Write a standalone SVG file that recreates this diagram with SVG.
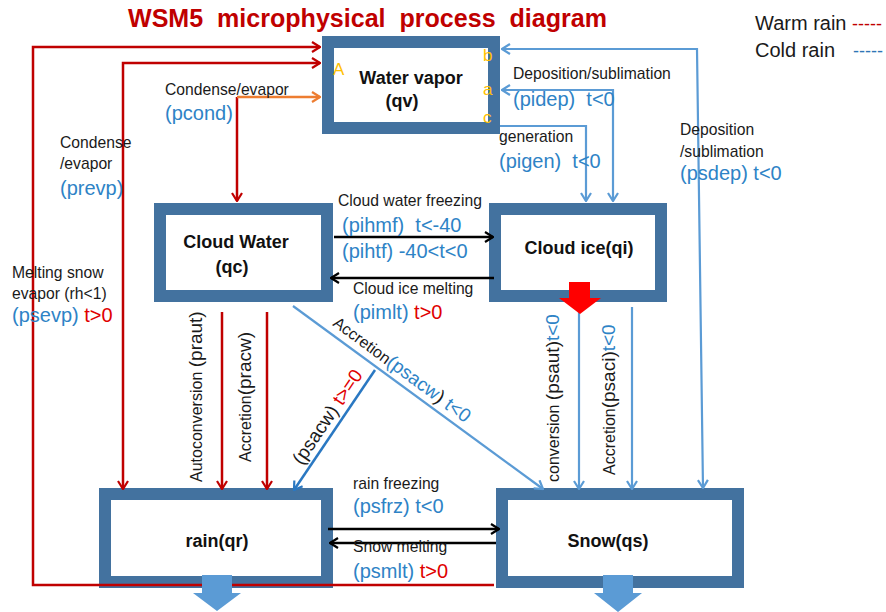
<svg xmlns="http://www.w3.org/2000/svg" width="886" height="612" viewBox="0 0 886 612">
<defs>
<style>
text{font-family:"Liberation Sans",Arial,sans-serif;white-space:pre}
.t{font-size:15.7px;fill:#1a1a1a}
.b{font-size:20px;fill:#2e83c6}
.r{fill:#e00000}
.k{fill:#1a1a1a}
.bl{fill:#2e83c6}
.box{fill:#fff;stroke:#43729f;stroke-width:12}
.nl{font-size:18px;font-weight:bold;fill:#111;text-anchor:middle}
.ltr{font-size:17px;fill:#ffc000}
.red{fill:none;stroke:#c00000;stroke-width:2.5}
.org{fill:none;stroke:#ed7d31;stroke-width:2.5}
.blu{fill:none;stroke:#5b9bd5;stroke-width:2.2}
.dbl{fill:none;stroke:#2a78c2;stroke-width:2.5}
.blk{fill:none;stroke:#000;stroke-width:2.5}
.blk-arrow{fill:#5b9bd5}
</style>
<marker id="mr" viewBox="0 0 10 12" refX="9" refY="6" markerWidth="10" markerHeight="12" markerUnits="userSpaceOnUse" orient="auto-start-reverse"><path d="M1,1 L9,6 L1,11" fill="none" stroke="#c00000" stroke-width="2.2"/></marker>
<marker id="mo" viewBox="0 0 10 12" refX="9" refY="6" markerWidth="10" markerHeight="12" markerUnits="userSpaceOnUse" orient="auto-start-reverse"><path d="M1,1 L9,6 L1,11" fill="none" stroke="#ed7d31" stroke-width="2.2"/></marker>
<marker id="mb" viewBox="0 0 10 12" refX="9" refY="6" markerWidth="10" markerHeight="12" markerUnits="userSpaceOnUse" orient="auto-start-reverse"><path d="M1,1 L9,6 L1,11" fill="none" stroke="#5b9bd5" stroke-width="2.2"/></marker>
<marker id="md" viewBox="0 0 10 12" refX="9" refY="6" markerWidth="10" markerHeight="12" markerUnits="userSpaceOnUse" orient="auto-start-reverse"><path d="M1,1 L9,6 L1,11" fill="none" stroke="#2a78c2" stroke-width="2.2"/></marker>
<marker id="mk" viewBox="0 0 10 12" refX="9" refY="6" markerWidth="10" markerHeight="12" markerUnits="userSpaceOnUse" orient="auto-start-reverse"><path d="M1,1 L9,6 L1,11" fill="none" stroke="#000" stroke-width="2.2"/></marker>
</defs>
<rect width="886" height="612" fill="#fff"/>

<text x="128" y="27" font-size="25" font-weight="bold" fill="#c00000" textLength="479" lengthAdjust="spacingAndGlyphs">WSM5  microphysical  process  diagram</text>

<g id="legend">
<text x="755" y="30" font-size="20" fill="#1a1a1a">Warm rain</text>
<text x="852" y="30" font-size="18" fill="#c00000">-----</text>
<text x="755" y="57" font-size="20" fill="#1a1a1a">Cold rain</text>
<text x="853" y="57" font-size="18" fill="#2e75b6">-----</text>
</g>

<g id="water-vapor">
<rect class="box" x="328" y="42" width="166" height="86"/>
<text class="nl" x="411" y="84">Water vapor</text>
<text class="nl" x="402" y="107">(qv)</text>
<text class="ltr" x="333" y="75">A</text>
<text class="ltr" x="483" y="61">b</text>
<text class="ltr" x="483" y="95">a</text>
<text class="ltr" x="483" y="123">c</text>
</g>
<g id="cloud-water">
<rect class="box" x="160" y="209" width="167" height="87"/>
<text class="nl" x="236" y="248">Cloud Water</text>
<text class="nl" x="232" y="273">(qc)</text>
</g>
<g id="cloud-ice">
<rect class="box" x="495" y="209" width="166" height="87"/>
<text class="nl" x="579" y="254">Cloud ice(qi)</text>
</g>
<g id="rain">
<rect class="box" x="105" y="494" width="222" height="88"/>
<text class="nl" x="217" y="547">rain(qr)</text>
</g>
<g id="snow">
<rect class="box" x="502" y="494" width="236" height="88"/>
<text class="nl" x="608" y="547">Snow(qs)</text>
</g>

<g id="connectors">
<path class="red" d="M494,585 H33 V47 H320" marker-end="url(#mr)"/>
<path class="red" d="M123,489 V63 H320" marker-start="url(#mr)" marker-end="url(#mr)"/>
<path class="red" d="M237,97 V201" marker-end="url(#mr)"/>
<path class="org" d="M237,97 H320" marker-end="url(#mo)"/>
<path class="red" d="M222,312 V489" marker-end="url(#mr)"/>
<path class="red" d="M267,312 V489" marker-end="url(#mr)"/>
<path class="blk" d="M334,237 H493" marker-end="url(#mk)"/>
<path class="blk" d="M494,278 H331" marker-end="url(#mk)"/>
<path class="blk" d="M328,529 H499" marker-end="url(#mk)"/>
<path class="blk" d="M496,543 H330" marker-end="url(#mk)"/>
<path class="blu" d="M703,488 L697,49 H502" marker-start="url(#mb)" marker-end="url(#mb)"/>
<path class="blu" d="M502,90 H613 V201" marker-start="url(#mb)" marker-end="url(#mb)"/>
<path class="blu" d="M500,126 H586 V201" marker-end="url(#mb)"/>
<path class="blu" d="M579,312 V489" marker-end="url(#mb)"/>
<path class="blu" d="M632,307 V489" marker-end="url(#mb)"/>
<path class="blu" d="M293,306 L543,489" marker-end="url(#mb)"/>
<path class="dbl" d="M375,370 L294,490" marker-end="url(#md)"/>
</g>

<g id="labels">
<text class="t" x="165" y="95">Condense/evapor</text>
<text class="b" x="165" y="120">(pcond)</text>
<text class="t" x="60" y="148">Condense</text>
<text class="t" x="60" y="169">/evapor</text>
<text class="b" x="60" y="195">(prevp)</text>
<text class="t" x="12" y="278">Melting snow</text>
<text class="t" x="12" y="299">evapor (rh&lt;1)</text>
<text class="b" x="12" y="322">(psevp) <tspan class="r">t&gt;0</tspan></text>
<text class="t" x="513" y="79">Deposition/sublimation</text>
<text class="b" x="513" y="106">(pidep)  t&lt;0</text>
<text class="t" x="499" y="142">generation</text>
<text class="b" x="499" y="168">(pigen)  t&lt;0</text>
<text class="t" x="680" y="135">Deposition</text>
<text class="t" x="680" y="157">/sublimation</text>
<text class="b" x="680" y="180">(psdep) t&lt;0</text>
<text class="t" x="338" y="206">Cloud water freezing</text>
<text class="b" x="342" y="232">(pihmf)  t&lt;-40</text>
<text class="b" x="342" y="258">(pihtf) -40&lt;t&lt;0</text>
<text class="t" x="353" y="294">Cloud ice melting</text>
<text class="b" x="353" y="319">(pimlt) <tspan class="r">t&gt;0</tspan></text>
<text class="t" x="353" y="489">rain freezing</text>
<text class="b" x="353" y="513">(psfrz) t&lt;0</text>
<text class="t" x="353" y="552">Snow melting</text>
<text class="b" x="353" y="578">(psmlt) <tspan class="r">t&gt;0</tspan></text>
<text class="k" transform="translate(202,482) rotate(-90)"><tspan font-size="16">Autoconversion </tspan><tspan font-size="19">(praut)</tspan></text>
<text class="k" transform="translate(251,462) rotate(-90)"><tspan font-size="16">Accretion</tspan><tspan font-size="19">(pracw)</tspan></text>
<text class="k" transform="translate(559,482) rotate(-90)"><tspan font-size="16">conversion </tspan><tspan font-size="19">(psaut)</tspan><tspan font-size="19" class="bl">t&lt;0</tspan></text>
<text class="k" transform="translate(615,475) rotate(-90)"><tspan font-size="16">Accretion</tspan><tspan font-size="19">(psaci)</tspan><tspan font-size="19" class="bl">t&lt;0</tspan></text>
<text class="k" font-size="19" transform="translate(302,466) rotate(-56)">(psacw) <tspan class="r">t&gt;=0</tspan></text>
<text class="k" transform="translate(332,325) rotate(36.5)"><tspan font-size="16">Accretion</tspan><tspan font-size="19" class="bl">(psacw</tspan><tspan font-size="19">)</tspan><tspan font-size="19" class="bl"> t&lt;0</tspan></text>
</g>

<g id="outflows">
<polygon fill="#ff0000" points="569,282 590,282 590,298 601,298 580,314 559,298 569,298"/>
<polygon class="blk-arrow" points="202,575 232,575 232,593 241,593 217,611 193,593 202,593"/>
<polygon class="blk-arrow" points="603,575 633,575 633,593 642,593 618,612 594,593 603,593"/>
</g>
</svg>
